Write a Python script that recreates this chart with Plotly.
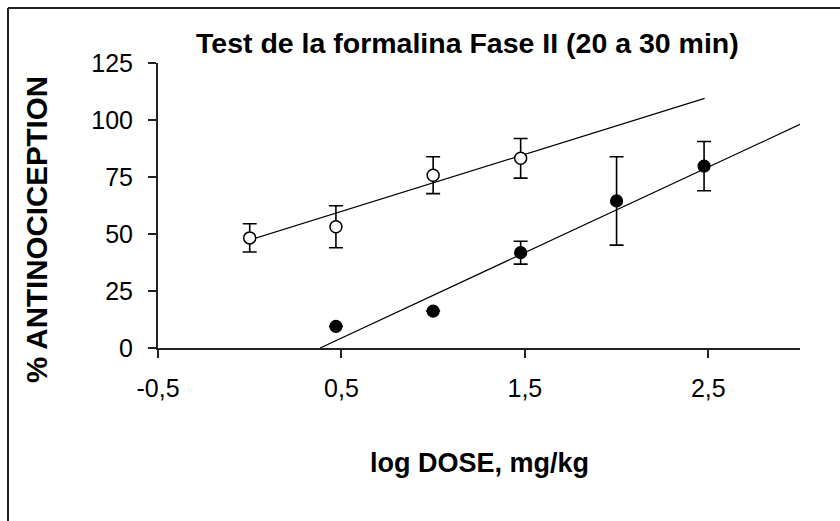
import plotly.graph_objects as go

# Dose-response data (log dose vs % antinociception), formalin test phase II
open_x = [0.0, 0.47, 1.0, 1.477]
open_y = [48.3, 53.2, 75.8, 83.2]
open_err = [6.2, 9.2, 8.1, 8.7]

filled_x = [0.47, 1.0, 1.477, 2.0, 2.477]
filled_y = [9.5, 16.2, 41.8, 64.5, 79.8]
filled_err = [0.0, 0.0, 5.0, 19.4, 10.8]

# Regression line endpoints
open_fit_x = [0.0, 2.48]
open_fit_y = [47.4, 109.5]
filled_fit_x = [0.384, 3.0]
filled_fit_y = [0.0, 98.1]

x_ticks = [-0.5, 0.5, 1.5, 2.5]
x_tick_text = ["-0,5", "0,5", "1,5", "2,5"]
y_ticks = [0, 25, 50, 75, 100, 125]

FONT = "Liberation Sans, Arial, sans-serif"
INK = "#000000"

fig = go.Figure()

fig.add_trace(go.Scatter(
    x=open_fit_x, y=open_fit_y, mode="lines",
    line=dict(color=INK, width=1.2), showlegend=False, hoverinfo="skip"))
fig.add_trace(go.Scatter(
    x=filled_fit_x, y=filled_fit_y, mode="lines",
    line=dict(color=INK, width=1.2), showlegend=False, hoverinfo="skip"))

fig.add_trace(go.Scatter(
    x=open_x, y=open_y, mode="markers",
    marker=dict(symbol="circle", size=12, color="white",
                line=dict(color=INK, width=1.5)),
    error_y=dict(type="data", array=open_err, visible=True,
                 color=INK, thickness=1.6, width=7),
    showlegend=False))
fig.add_trace(go.Scatter(
    x=filled_x, y=filled_y, mode="markers",
    marker=dict(symbol="circle", size=12, color=INK,
                line=dict(color=INK, width=1.2)),
    error_y=dict(type="data", array=filled_err, visible=True,
                 color=INK, thickness=1.6, width=7),
    showlegend=False))

# Plot-area geometry in pixels (used to place the outer frame and labels)
L, R, T, B = 158, 800, 63, 348
W, H = 840, 521


def px_x(px):
    return (px - L) / (R - L)


def px_y(py):
    return (B - py) / (B - T)


# Outer frame: top edge and left edge
fig.add_shape(type="line", xref="paper", yref="paper",
              x0=px_x(8), x1=px_x(840), y0=px_y(8), y1=px_y(8),
              line=dict(color="#222222", width=2))
fig.add_shape(type="line", xref="paper", yref="paper",
              x0=px_x(8), x1=px_x(8), y0=px_y(8), y1=px_y(521),
              line=dict(color="#222222", width=2))

fig.add_annotation(text="<b>Test de la formalina Fase II (20 a 30 min)</b>",
                   xref="paper", yref="paper", x=px_x(467), y=px_y(43),
                   xanchor="center", yanchor="middle", showarrow=False,
                   font=dict(family=FONT, size=28.5, color=INK))
fig.add_annotation(text="<b>log DOSE, mg/kg</b>",
                   xref="paper", yref="paper", x=px_x(480), y=px_y(463),
                   xanchor="center", yanchor="middle", showarrow=False,
                   font=dict(family=FONT, size=27, color=INK))
fig.add_annotation(text="<b>% ANTINOCICEPTION</b>", textangle=-90,
                   xref="paper", yref="paper", x=px_x(36), y=px_y(230),
                   xanchor="center", yanchor="middle", showarrow=False,
                   font=dict(family=FONT, size=29.5, color=INK))

fig.update_layout(
    width=W, height=H,
    margin=dict(l=L, r=W - R, t=T, b=H - B, pad=0),
    paper_bgcolor="white", plot_bgcolor="white",
    font=dict(family=FONT, color=INK),
    showlegend=False,
)
fig.update_xaxes(
    range=[-0.5, 3.0], tickvals=x_ticks, ticktext=x_tick_text,
    showgrid=False, zeroline=False, showline=True,
    linecolor="#222222", linewidth=2,
    ticks="outside", ticklen=8, tickwidth=2, tickcolor="#222222",
    tickfont=dict(family=FONT, size=25, color=INK), ticklabelstandoff=9,
)
fig.update_yaxes(
    range=[0, 125], tickvals=y_ticks,
    showgrid=False, zeroline=False, showline=True,
    linecolor="#222222", linewidth=2,
    ticks="outside", ticklen=8, tickwidth=2, tickcolor="#222222",
    tickfont=dict(family=FONT, size=25, color=INK), ticklabelstandoff=10,
)

fig.write_html("out.html")
